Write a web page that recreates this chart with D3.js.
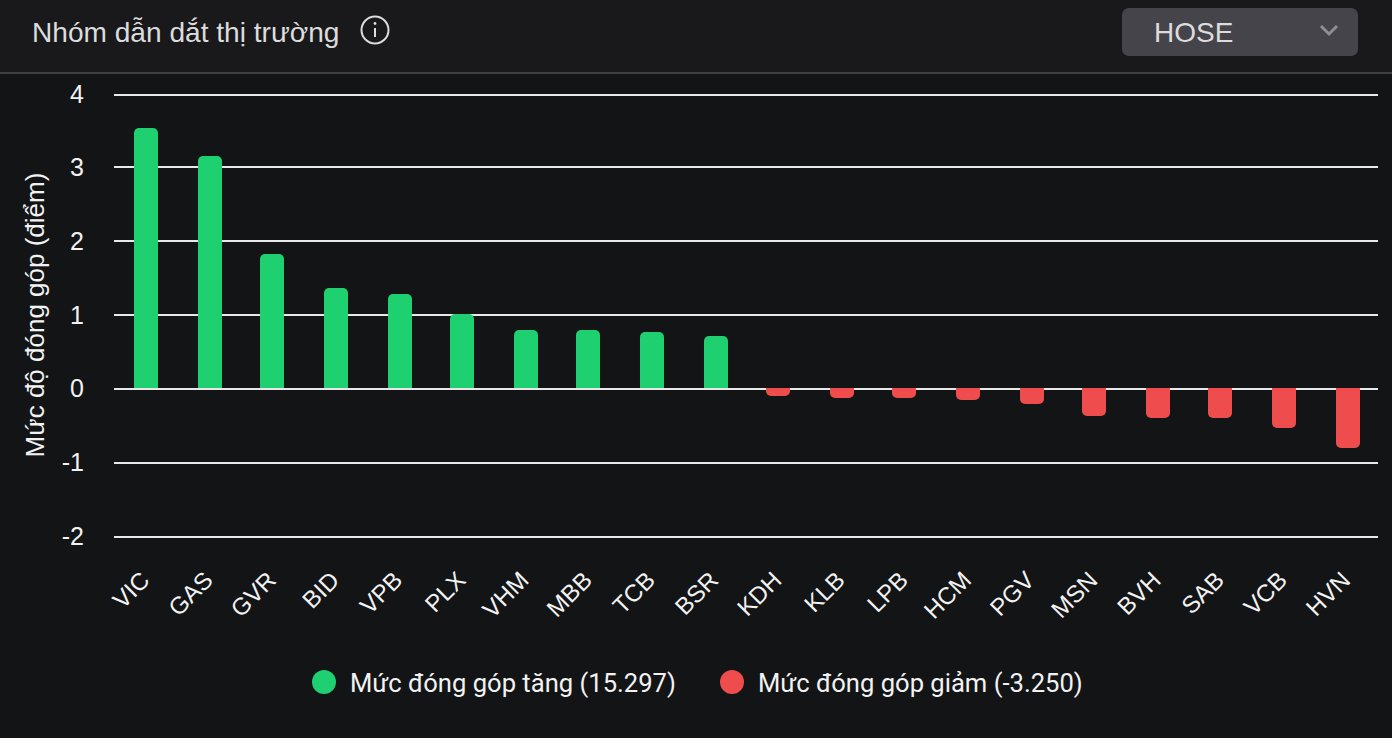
<!DOCTYPE html>
<html><head><meta charset="utf-8">
<script src="https://cdnjs.cloudflare.com/ajax/libs/d3/7.8.5/d3.min.js"></script>
<style>html,body{margin:0;padding:0;background:#131416;overflow:hidden}svg{display:block}text{font-family:"Liberation Sans",sans-serif}</style>
</head><body><svg id="c" width="1392" height="738"></svg>
<script>
const categories=["VIC","GAS","GVR","BID","VPB","PLX","VHM","MBB","TCB","BSR","KDH","KLB","LPB","HCM","PGV","MSN","BVH","SAB","VCB","HVN"];
const values=[3.53,3.15,1.82,1.36,1.28,1.0,0.78,0.78,0.76,0.71,-0.11,-0.14,-0.14,-0.16,-0.22,-0.38,-0.41,-0.41,-0.54,-0.81];
const yTicks=[-2,-1,0,1,2,3,4];
const legendLabels=["Mức đóng góp tăng (15.297)","Mức đóng góp giảm (-3.250)"];
const titleText="Nhóm dẫn dắt thị trường", yTitle="Mức độ đóng góp (điểm)", selectText="HOSE";
const GREEN="#1fd071",RED="#ef4d4d";

const svg=d3.select("#c");
svg.append("rect").attr("width",1392).attr("height",738).attr("fill","#131416");
svg.append("rect").attr("width",1392).attr("height",72).attr("fill","#19191c");
svg.append("rect").attr("y",72).attr("width",1392).attr("height",2).attr("fill","#3f3f46");
svg.append("text").attr("x",32).attr("y",42).attr("font-size",28.1).attr("fill","#dcdcdc").text(titleText);
const info=svg.append("g").attr("transform","translate(375,30)").attr("fill","none").attr("stroke","#dcdcdc");
info.append("circle").attr("r",13.5).attr("stroke-width",2);
info.append("line").attr("y1",-2).attr("y2",7).attr("stroke-width",2);
info.append("circle").attr("cy",-6.5).attr("r",1.4).attr("fill","#dcdcdc").attr("stroke","none");
svg.append("rect").attr("x",1122).attr("y",8).attr("width",236).attr("height",48).attr("rx",7).attr("fill","#44444a");
svg.append("text").attr("x",1154).attr("y",42).attr("font-size",28).attr("fill","#dcdcdc").text(selectText);
svg.append("path").attr("d","M1321 26l8 8 8-8").attr("fill","none").attr("stroke","#8e8e92").attr("stroke-width",3);

const y=d3.scaleLinear().domain([-2,4]).range([537.2,95]);
const x=d3.scaleBand().domain(categories).range([114.8,1378.8]);
const barW=24;
const snapLine=v=>2*Math.floor((v-1)/2)+1;
const grid=svg.append("g");
grid.selectAll("line").data(yTicks).join("line").attr("x1",114).attr("x2",1378)
 .attr("y1",d=>snapLine(y(d))).attr("y2",d=>snapLine(y(d))).attr("stroke","#e8e8e8").attr("stroke-width",2);
svg.append("g").selectAll("text").data(yTicks).join("text").attr("x",84).attr("y",d=>y(d)+7.5)
 .attr("text-anchor","end").attr("font-size",25).attr("fill","#f2f2f2").text(d=>d);
svg.append("text").attr("transform","translate(44,315) rotate(-90)").attr("text-anchor","middle")
 .attr("font-size",26).attr("fill","#f2f2f2").text(yTitle);

const r=5, base=388;
svg.append("g").selectAll("path").data(categories).join("path")
 .attr("fill",(d,i)=>values[i]>=0?GREEN:RED)
 .attr("d",(d,i)=>{
   const l=2*Math.round((x(d)+x.bandwidth()/2-barW/2)/2), R=l+barW;
   const v=2*Math.round((base-(y(0)-y(values[i])))/2);
   const p=d3.path();
   const s=v<base?1:-1;
   p.moveTo(l,base);p.lineTo(l,v+s*r);
   p.arcTo(l,v,l+r,v,r);p.lineTo(R-r,v);
   p.arcTo(R,v,R,v+s*r,r);p.lineTo(R,base);p.closePath();
   return p.toString();
 });
svg.append("g").selectAll("text").data(categories).join("text")
 .attr("text-anchor","end").attr("font-size",24).attr("fill","#f2f2f2")
 .attr("transform",d=>`translate(${x(d)+x.bandwidth()/2-1},${576}) rotate(-45)`).attr("dy",8).text(d=>d);

const lg=[{cx:324,tx:350,c:GREEN},{cx:732,tx:758,c:RED}];
svg.append("g").selectAll("circle").data(lg).join("circle").attr("cx",d=>d.cx).attr("cy",682).attr("r",12).attr("fill",d=>d.c);
svg.append("g").selectAll("text").data(lg).join("text").attr("x",d=>d.tx).attr("y",692)
 .style("font-family","Roboto").attr("font-size",25.6).attr("fill","#f2f2f2").text((d,i)=>legendLabels[i]);
</script></body></html>
